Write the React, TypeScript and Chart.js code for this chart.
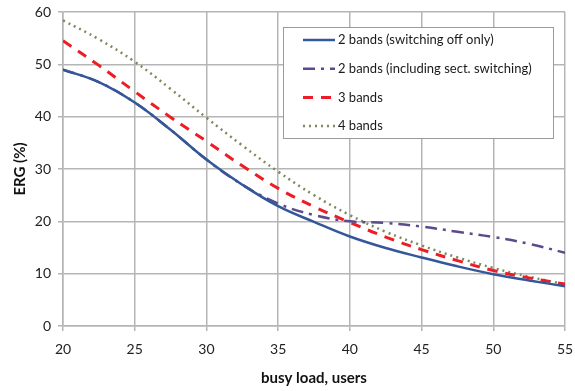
import React, { useEffect, useRef } from "react";
import { Chart, registerables } from "chart.js";

Chart.register(...registerables);

const xValues = [20, 22.5, 25, 27.5, 30, 32.5, 35, 37.5, 40, 42.5, 45, 47.5, 50, 52.5, 55];
const twoBandsOff = [49, 46.6, 42.7, 37.5, 31.8, 27, 22.9, 19.9, 17.1, 14.9, 13.1, 11.4, 9.9, 8.7, 7.6];
const twoBandsSect = [49, 46.6, 42.7, 37.5, 31.8, 27, 23.4, 21.2, 20, 19.7, 19, 18, 17, 15.7, 14];
const threeBands = [54.5, 49.8, 44.8, 39.9, 35.3, 30.6, 26.3, 22.8, 19.8, 17, 14.6, 12.5, 10.6, 9.2, 8];
const fourBands = [58.4, 54.8, 50.5, 45.3, 39.8, 34.5, 29.5, 25, 21.2, 18, 15.4, 13.1, 11.1, 9.4, 8];

const seriesNames = [
  "2 bands (switching off only)",
  "2 bands (including sect. switching)",
  "3 bands",
  "4 bands",
];
const seriesColors = ["#34579a", "#5c4a8c", "#ee1c24", "#7b8a5c"];
const seriesDashes: number[][] = [[], [12, 6, 3, 6], [10, 8], [2, 4]];
const seriesWidths = [2.5, 2.5, 3, 2.5];

const xTitle = "busy load, users";
const yTitle = "ERG (%)";

const toPoints = (ys: number[]) => ys.map((y, i) => ({ x: xValues[i], y }));

const legendPlugin = {
  id: "boxLegend",
  afterDraw(chart: any) {
    const ctx = chart.ctx;
    const ca = chart.chartArea;
    const left = ca.left + 220;
    const top = ca.top + 15;
    const w = 270;
    const h = 111;
    ctx.save();
    ctx.fillStyle = "#ffffff";
    ctx.fillRect(left, top, w, h);
    ctx.strokeStyle = "#9a9a9a";
    ctx.lineWidth = 1;
    ctx.strokeRect(left + 0.5, top + 0.5, w, h);
    ctx.font = "13px Lato, 'Open Sans', sans-serif";
    ctx.textBaseline = "middle";
    ctx.textAlign = "left";
    seriesNames.forEach((name, i) => {
      const y = top + 13 + i * 28.7;
      ctx.beginPath();
      ctx.strokeStyle = seriesColors[i];
      ctx.lineWidth = seriesWidths[i];
      ctx.setLineDash(seriesDashes[i]);
      ctx.moveTo(left + 20, y);
      ctx.lineTo(left + 52, y);
      ctx.stroke();
      ctx.setLineDash([]);
      ctx.fillStyle = "#1a1a1a";
      ctx.fillText(name, left + 55, y);
    });
    ctx.restore();
  },
};

export default function App() {
  const canvasRef = useRef<HTMLCanvasElement | null>(null);

  useEffect(() => {
    if (!canvasRef.current) return;
    const allSeries = [twoBandsOff, twoBandsSect, threeBands, fourBands];
    const chart = new Chart(canvasRef.current, {
      type: "line",
      data: {
        datasets: allSeries.map((ys, i) => ({
          label: seriesNames[i],
          data: toPoints(ys),
          borderColor: seriesColors[i],
          backgroundColor: seriesColors[i],
          borderWidth: seriesWidths[i],
          borderDash: seriesDashes[i],
          pointRadius: 0,
          tension: 0.4,
          fill: false,
        })),
      },
      options: {
        animation: false,
        responsive: true,
        maintainAspectRatio: false,
        layout: { padding: { top: 12, right: 10, left: 0, bottom: 0 } },
        plugins: {
          legend: { display: false },
          tooltip: { enabled: false },
        },
        scales: {
          x: {
            type: "linear",
            min: 20,
            max: 55,
            afterFit: (scale: any) => {
              scale.height = 65;
              scale.paddingLeft = 0;
              scale.paddingRight = 0;
            },
            ticks: {
              stepSize: 5,
              padding: 10,
              color: "#222",
              font: { family: "Lato, 'Open Sans', sans-serif", size: 14 },
            },
            grid: { color: "#b5b5b5", lineWidth: 1.5, tickLength: 5 },
            border: { color: "#b5b5b5", width: 1.5 },
            title: {
              display: true,
              text: xTitle,
              color: "#111",
              font: { family: "Lato, 'Open Sans', sans-serif", size: 15, weight: "bold" },
              padding: { top: 0, bottom: 4 },
            },
          },
          y: {
            type: "linear",
            min: 0,
            max: 60,
            afterFit: (scale: any) => {
              scale.width = 63;
              scale.paddingTop = 0;
              scale.paddingBottom = 0;
            },
            ticks: {
              stepSize: 10,
              padding: 7,
              color: "#222",
              font: { family: "Lato, 'Open Sans', sans-serif", size: 14 },
            },
            grid: { color: "#b5b5b5", lineWidth: 1.5, tickLength: 5 },
            border: { color: "#b5b5b5", width: 1.5 },
            title: {
              display: true,
              text: yTitle,
              color: "#111",
              font: { family: "Lato, 'Open Sans', sans-serif", size: 15, weight: "bold" },
              padding: { top: 11, bottom: 0 },
            },
          },
        },
      },
      plugins: [legendPlugin],
    } as any);
    return () => chart.destroy();
  }, []);

  return (
    <div style={{ position: "fixed", left: 0, top: 0, width: 575, height: 391, background: "#fff" }}>
      <canvas ref={canvasRef} />
    </div>
  );
}
